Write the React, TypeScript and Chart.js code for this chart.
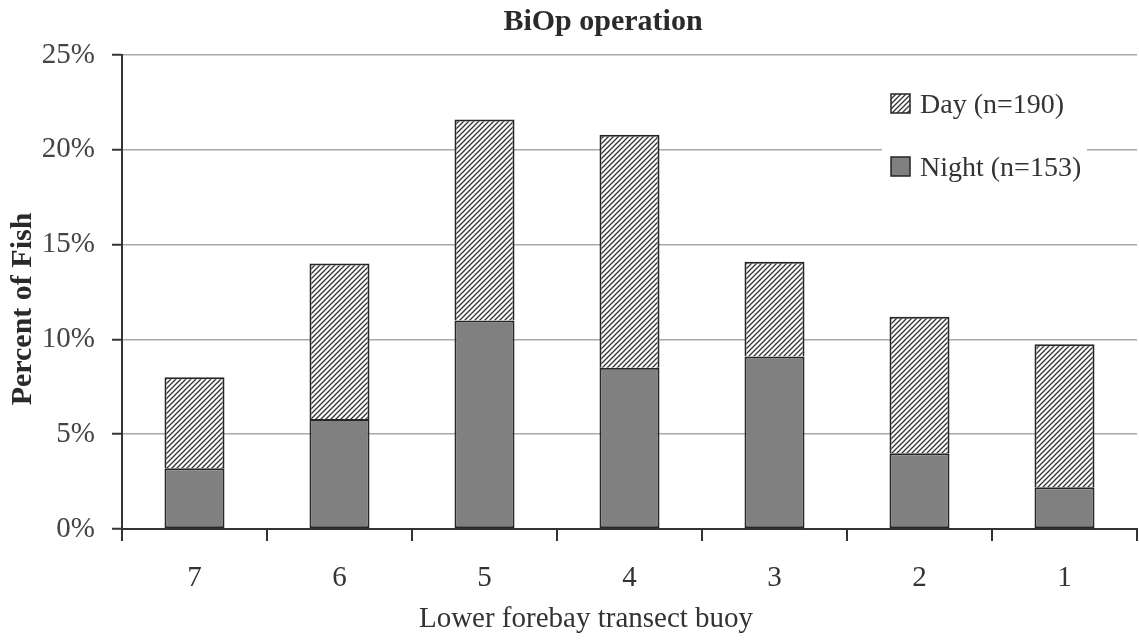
import React, { useEffect, useRef } from 'react';
import { Chart, registerables } from 'chart.js';

Chart.register(...registerables);

const categories = ['7', '6', '5', '4', '3', '2', '1'];
const nightValues = [3.2, 5.8, 11.0, 8.5, 9.1, 4.0, 2.2];
const dayValues = [4.8, 8.2, 10.6, 12.3, 5.0, 7.2, 7.55];
const yTickValues = [0, 5, 10, 15, 20, 25];
const seriesLabels = ['Day (n=190)', 'Night (n=153)'];
const chartTitle = 'BiOp operation';
const xAxisTitle = 'Lower forebay transect buoy';
const yAxisTitle = 'Percent of Fish';

const SERIF = '"Liberation Serif", "DejaVu Serif", serif';
const NIGHT_FILL = '#808080';
const EDGE = '#262626';

function makeHatch(ctx: CanvasRenderingContext2D): CanvasPattern | string {
  const tile = document.createElement('canvas');
  tile.width = 5;
  tile.height = 5;
  const g = tile.getContext('2d');
  if (!g) return '#ccc';
  g.fillStyle = '#ffffff';
  g.fillRect(0, 0, 5, 5);
  g.strokeStyle = '#333333';
  g.lineWidth = 1.3;
  g.beginPath();
  g.moveTo(-1, 6);
  g.lineTo(6, -1);
  g.moveTo(-1, 1);
  g.lineTo(1, -1);
  g.moveTo(4, 6);
  g.lineTo(6, 4);
  g.stroke();
  return ctx.createPattern(tile, 'repeat') || '#ccc';
}

export default function App() {
  const canvasRef = useRef<HTMLCanvasElement | null>(null);

  useEffect(() => {
    const canvas = canvasRef.current;
    if (!canvas) return;
    const ctx0 = canvas.getContext('2d');
    if (!ctx0) return;
    const hatch = makeHatch(ctx0);

    const textPlugin = {
      id: 'scanTexts',
      beforeDraw(chart: any) {
        const c = chart.ctx;
        c.save();
        c.fillStyle = '#ffffff';
        c.fillRect(0, 0, chart.width, chart.height);
        c.restore();
      },
      afterDraw(chart: any) {
        const c: CanvasRenderingContext2D = chart.ctx;
        c.save();
        // Title
        c.fillStyle = '#2a2a2a';
        c.font = `bold 30px ${SERIF}`;
        c.textAlign = 'center';
        c.textBaseline = 'alphabetic';
        c.fillText(chartTitle, 603, 30);
        // X axis title
        c.fillStyle = '#333';
        c.font = `29px ${SERIF}`;
        c.fillText(xAxisTitle, 586, 627);
        // Y axis title
        c.save();
        c.translate(31, 309);
        c.rotate(-Math.PI / 2);
        c.font = `bold 30px ${SERIF}`;
        c.fillStyle = '#2a2a2a';
        c.fillText(yAxisTitle, 0, 0);
        c.restore();
        // Legend box
        c.fillStyle = '#ffffff';
        c.fillRect(882, 78, 205, 117);
        const fills = [hatch, NIGHT_FILL];
        const tops = [94, 157];
        const baselines = [113, 176];
        c.font = `28px ${SERIF}`;
        c.textAlign = 'left';
        seriesLabels.forEach((lab, i) => {
          c.fillStyle = fills[i] as any;
          c.fillRect(891, tops[i], 19, 19);
          c.strokeStyle = EDGE;
          c.lineWidth = 1.5;
          c.strokeRect(891, tops[i], 19, 19);
          c.fillStyle = '#333';
          c.fillText(lab, 920, baselines[i]);
        });
        c.restore();
      },
    };

    const chart = new Chart(canvas, {
      type: 'bar',
      data: {
        labels: categories,
        datasets: [
          {
            label: seriesLabels[1],
            data: nightValues,
            backgroundColor: NIGHT_FILL,
            borderColor: EDGE,
            borderWidth: 2,
            borderSkipped: false,
            barPercentage: 0.414,
            categoryPercentage: 1,
          },
          {
            label: seriesLabels[0],
            data: dayValues,
            backgroundColor: hatch as any,
            borderColor: EDGE,
            borderWidth: 2,
            borderSkipped: 'bottom',
            barPercentage: 0.414,
            categoryPercentage: 1,
          },
        ],
      },
      options: {
        animation: false,
        responsive: false,
        devicePixelRatio: 1,
        layout: { padding: { top: 55, right: 2, bottom: 0, left: 0 } },
        plugins: {
          legend: { display: false },
          title: { display: false },
          tooltip: { enabled: false },
        },
        scales: {
          x: {
            stacked: true,
            grid: {
              display: true,
              offset: true,
              drawOnChartArea: false,
              drawTicks: true,
              tickLength: 12,
              color: '#333',
              lineWidth: 2,
            },
            border: { display: true, color: '#333', width: 2 },
            ticks: {
              color: '#333',
              padding: 20,
              font: { family: SERIF, size: 29 },
            },
            afterFit: (s: any) => {
              s.height = 111;
            },
          },
          y: {
            stacked: true,
            min: 0,
            max: 25,
            afterBuildTicks: (s: any) => {
              s.ticks = yTickValues.map((v) => ({ value: v }));
            },
            ticks: {
              color: '#444',
              padding: 17,
              font: { family: SERIF, size: 29 },
              callback: (v: any) => `${v}%`,
            },
            grid: {
              color: '#a8a8a8',
              lineWidth: 1.5,
              tickColor: '#333',
              tickLength: 10,
              tickWidth: 2,
            },
            border: { display: true, color: '#333', width: 2 },
            afterFit: (s: any) => {
              s.width = 122;
            },
          },
        },
      },
      plugins: [textPlugin],
    });

    return () => chart.destroy();
  }, []);

  return (
    <div style={{ position: 'absolute', left: 0, top: 0, width: 1139, height: 640, background: '#fff' }}>
      <canvas ref={canvasRef} width={1139} height={640} />
    </div>
  );
}
